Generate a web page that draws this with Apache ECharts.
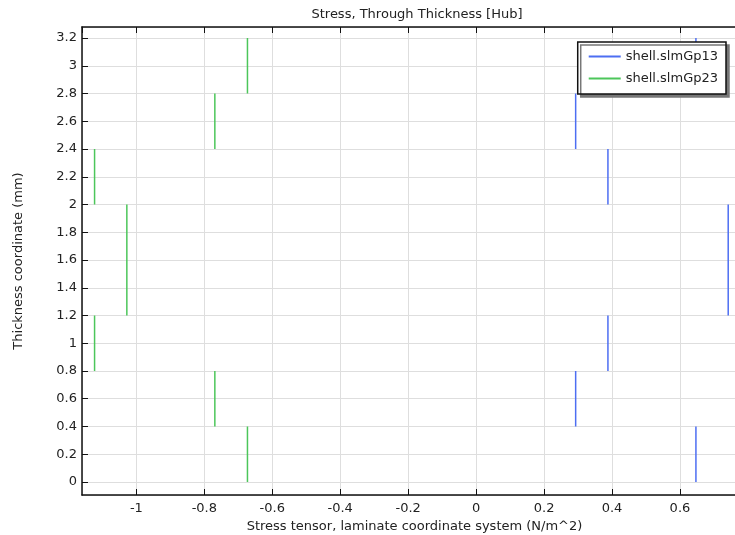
<!DOCTYPE html>
<html>
<head>
<meta charset="utf-8">
<script src="https://cdn.jsdelivr.net/npm/echarts@6/dist/echarts.min.js"></script>
<style>
  html, body { margin: 0; padding: 0; background: #fff; }
  #chart { width: 735px; height: 535px; }
</style>
</head>
<body>
<div id="chart"></div>
<script>
// layer bounds through the thickness (mm)
const layerBottom = [0, 0.4, 0.8, 1.2, 2.0, 2.4, 2.8]
const layerTop = [0.4, 0.8, 1.2, 2.0, 2.4, 2.8, 3.2]
// stress values per layer
const slmGp13 = [0.647, 0.293, 0.388, 0.742, 0.388, 0.293, 0.647]
const slmGp23 = [-0.673, -0.769, -1.123, -1.028, -1.123, -0.769, -0.673]

const seriesNames = ['shell.slmGp13', 'shell.slmGp23']

// one vertical segment per layer, gaps between
const segments = (vals) => {
  const out = []
  vals.forEach((v, i) => {
    out.push([v, layerBottom[i]])
    out.push([v, layerTop[i]])
    out.push('-')
  })
  return out
}

const font = 'DejaVu Sans'
const txt = { fontFamily: font, fontSize: 13, color: '#222' }
const chart = echarts.init(document.getElementById('chart'))

const xRange = { min: -1.16, max: 0.762 }

chart.setOption({
  animation: false,
  title: {
    text: 'Stress, Through Thickness [Hub]',
    left: 412,
    textAlign: 'center',
    top: 3,
    textStyle: { ...txt, fontWeight: 'normal' }
  },
  legend: {
    orient: 'vertical',
    right: 9,
    top: 42,
    padding: [8, 8, 9, 10],
    itemWidth: 32,
    itemHeight: 14,
    itemGap: 9,
    backgroundColor: '#fff',
    borderColor: '#111',
    borderWidth: 1.5,
    shadowColor: '#777',
    shadowOffsetX: 3,
    shadowOffsetY: 3,
    shadowBlur: 0,
    itemStyle: { opacity: 0 },
    textStyle: txt,
    data: seriesNames
  },
  grid: { left: 82, right: 0, top: 27, bottom: 40, outerBoundsMode: 'none' },
  xAxis: [
    {
      type: 'value',
      min: xRange.min,
      max: xRange.max,
      splitNumber: 10,
      name: 'Stress tensor, laminate coordinate system (N/m^2)',
      nameLocation: 'middle',
      nameGap: 19,
      nameTextStyle: { ...txt, padding: [0, 0, 0, 12] },
      axisLine: { onZero: false, lineStyle: { color: '#111', width: 1.5 } },
      axisTick: { inside: true, length: 6, lineStyle: { color: '#111' } },
      axisLabel: { ...txt, showMinLabel: false, showMaxLabel: false, margin: 7 },
      splitLine: { show: true, lineStyle: { color: '#dedede', width: 1 } }
    },
    {
      type: 'value',
      position: 'top',
      min: xRange.min,
      max: xRange.max,
      splitNumber: 10,
      axisLine: { onZero: false, lineStyle: { color: '#111', width: 1.5 } },
      axisTick: { inside: true, length: 6, lineStyle: { color: '#111' } },
      axisLabel: { show: false },
      splitLine: { show: false }
    }
  ],
  yAxis: {
    type: 'value',
    min: -0.094,
    max: 3.28,
    splitNumber: 17,
    name: 'Thickness coordinate (mm)',
    nameLocation: 'middle',
    nameGap: 57,
    nameTextStyle: txt,
    axisLine: { show: true, onZero: false, lineStyle: { color: '#111', width: 1.5 } },
    axisTick: { show: true, inside: true, length: 6, lineStyle: { color: '#111' } },
    axisLabel: { ...txt, showMinLabel: false, showMaxLabel: false, margin: 5 },
    splitLine: { show: true, lineStyle: { color: '#dedede', width: 1 } }
  },
  series: [
    {
      name: seriesNames[0],
      type: 'line',
      symbol: 'none',
      connectNulls: false,
      lineStyle: { color: '#4d6ef2', width: 1.5 },
      itemStyle: { color: '#4d6ef2' },
      data: segments(slmGp13)
    },
    {
      name: seriesNames[1],
      type: 'line',
      symbol: 'none',
      connectNulls: false,
      lineStyle: { color: '#4cc65a', width: 1.5 },
      itemStyle: { color: '#4cc65a' },
      data: segments(slmGp23)
    }
  ]
})
</script>
</body>
</html>
